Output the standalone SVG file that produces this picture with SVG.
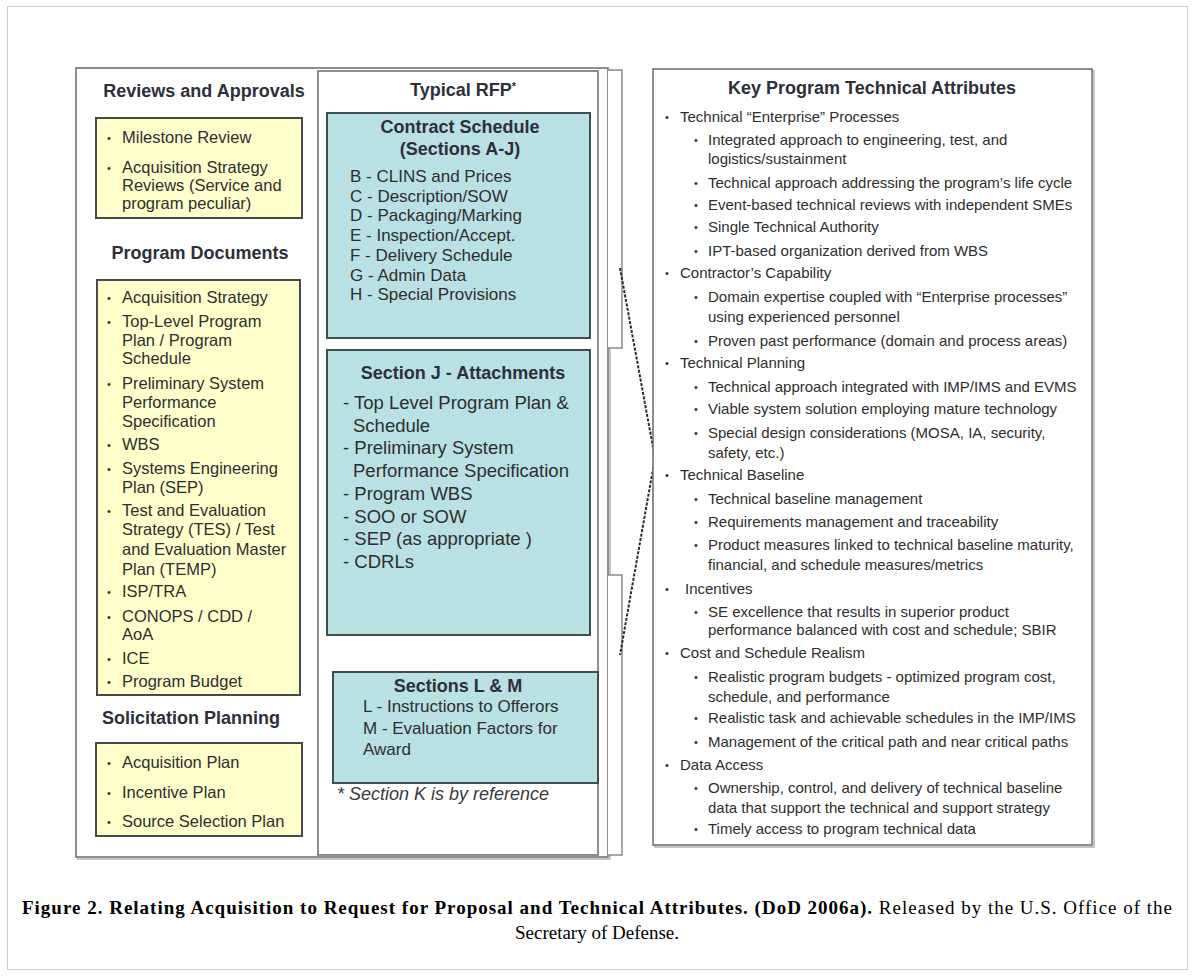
<svg xmlns="http://www.w3.org/2000/svg" width="1194" height="976" viewBox="0 0 1194 976">
<style>
.frame{fill:none;stroke:#cfcfcf;stroke-width:1}
.panel{fill:#fff;stroke:#6a6a6a;stroke-width:1.5}
.shadow{fill:none;stroke:#c4c4c4;stroke-width:2}
.yel{fill:#ffffcc;stroke:#4a4a4a;stroke-width:2}
.teal{fill:#b9e0e3;stroke:#3e4f50;stroke-width:2}
.brace{fill:#fff;stroke:#8a8a8a;stroke-width:1.5}
.chev{fill:none;stroke:#2a2a2a;stroke-width:2;stroke-dasharray:3 1.5}
text{font-family:"Liberation Sans",Arial,sans-serif;fill:#2e2e2e}
.hd{font-weight:bold;font-size:18px;text-anchor:middle;fill:#2d2f3a}
.li{font-size:16.5px}
.mi{font-size:17px}
.ji{font-size:18.5px}
.ri{font-size:15px}
.bl{font-size:11px}
.note{font-size:18px;font-style:italic;fill:#3a3a3a}
.cap{font-family:"Liberation Serif","Times New Roman",serif;font-size:19px;text-anchor:middle;fill:#000}
</style>

<rect class="frame" x="7.5" y="6.5" width="1180" height="963"/>

<g id="left-panel">
  <rect class="shadow" x="78" y="70" width="532" height="789"/>
  <rect class="panel" x="76" y="68" width="532" height="789"/>
  <text class="hd" x="204" y="97">Reviews and Approvals</text>
  <text class="hd" x="200" y="259">Program Documents</text>
  <text class="hd" x="191" y="724">Solicitation Planning</text>
</g>

<g id="reviews-box">
  <rect class="yel" x="96" y="118" width="206" height="100"/>
  <g class="bl"><text x="107" y="142">•</text><text x="107" y="172">•</text></g>
  <g class="li">
    <text x="122" y="143">Milestone Review</text>
    <text x="122" y="173">Acquisition Strategy</text>
    <text x="122" y="191">Reviews (Service and</text>
    <text x="122" y="209">program peculiar)</text>
  </g>
</g>

<g id="documents-box">
  <rect class="yel" x="97" y="280" width="203" height="415"/>
  <g class="bl">
    <text x="107" y="302">•</text><text x="107" y="326">•</text><text x="107" y="388">•</text>
    <text x="107" y="449">•</text><text x="107" y="473">•</text><text x="107" y="515">•</text>
    <text x="107" y="596">•</text><text x="107" y="621">•</text><text x="107" y="663">•</text>
    <text x="107" y="686">•</text>
  </g>
  <g class="li">
    <text x="122" y="303">Acquisition Strategy</text>
    <text x="122" y="327">Top-Level Program</text>
    <text x="122" y="346">Plan / Program</text>
    <text x="122" y="364">Schedule</text>
    <text x="122" y="389">Preliminary System</text>
    <text x="122" y="408">Performance</text>
    <text x="122" y="427">Specification</text>
    <text x="122" y="450">WBS</text>
    <text x="122" y="474">Systems Engineering</text>
    <text x="122" y="493">Plan (SEP)</text>
    <text x="122" y="516">Test and Evaluation</text>
    <text x="122" y="535">Strategy (TES) / Test</text>
    <text x="122" y="555">and Evaluation Master</text>
    <text x="122" y="575">Plan (TEMP)</text>
    <text x="122" y="597">ISP/TRA</text>
    <text x="122" y="622">CONOPS / CDD /</text>
    <text x="122" y="640">AoA</text>
    <text x="122" y="664">ICE</text>
    <text x="122" y="687">Program Budget</text>
  </g>
</g>

<g id="solicitation-box">
  <rect class="yel" x="96" y="743" width="206" height="93"/>
  <g class="bl"><text x="107" y="767">•</text><text x="107" y="797">•</text><text x="107" y="826">•</text></g>
  <g class="li">
    <text x="122" y="768">Acquisition Plan</text>
    <text x="122" y="798">Incentive Plan</text>
    <text x="122" y="827">Source Selection Plan</text>
  </g>
</g>

<g id="rfp-panel">
  <rect class="panel" x="318" y="71" width="280" height="784"/>
  <text class="hd" x="463" y="96">Typical RFP<tspan font-size="11" dy="-6">*</tspan></text>
  <text class="note" x="337" y="800">* Section K is by reference</text>
</g>

<g id="contract-schedule">
  <rect class="teal" x="327" y="113" width="263" height="225"/>
  <text class="hd" x="460" y="133">Contract Schedule</text>
  <text class="hd" x="460" y="155">(Sections A-J)</text>
  <g class="mi">
    <text x="350" y="182">B - CLINS and Prices</text>
    <text x="350" y="202">C - Description/SOW</text>
    <text x="350" y="221">D - Packaging/Marking</text>
    <text x="350" y="241">E - Inspection/Accept.</text>
    <text x="350" y="261">F - Delivery Schedule</text>
    <text x="350" y="281">G - Admin Data</text>
    <text x="350" y="300">H - Special Provisions</text>
  </g>
</g>

<g id="section-j">
  <rect class="teal" x="327" y="350" width="263" height="285"/>
  <text class="hd" x="463" y="379">Section J - Attachments</text>
  <g class="ji">
    <text x="343" y="409">- Top Level Program Plan &amp;</text>
    <text x="353" y="432">Schedule</text>
    <text x="343" y="454">- Preliminary System</text>
    <text x="353" y="477">Performance Specification</text>
    <text x="343" y="500">- Program WBS</text>
    <text x="343" y="523">- SOO or SOW</text>
    <text x="343" y="545">- SEP (as appropriate )</text>
    <text x="343" y="568">- CDRLs</text>
  </g>
</g>

<g id="sections-lm">
  <rect class="teal" x="333" y="672" width="265" height="111"/>
  <text class="hd" x="458" y="692">Sections L &amp; M</text>
  <g class="mi">
    <text x="363" y="712">L - Instructions to Offerors</text>
    <text x="363" y="734">M - Evaluation Factors for</text>
    <text x="363" y="755">Award</text>
  </g>
</g>

<g id="connectors">
  <path class="brace" d="M608 70 H622 V348 H608"/>
  <path class="brace" d="M608 855 H622 V575 H608"/>
  <polyline class="chev" points="620,268 655,458 620,655"/>
</g>

<g id="key-attributes">
  <rect class="shadow" x="655" y="71" width="439" height="776"/>
  <rect class="panel" x="653" y="69" width="439" height="776"/>
  <text class="hd" x="872" y="94">Key Program Technical Attributes</text>
  <g class="bl">
    <text x="665" y="121">•</text><text x="694" y="144">•</text><text x="694" y="187">•</text>
    <text x="694" y="209">•</text><text x="694" y="231">•</text><text x="694" y="255">•</text>
    <text x="665" y="277">•</text><text x="694" y="301">•</text><text x="694" y="345">•</text>
    <text x="665" y="367">•</text><text x="694" y="391">•</text><text x="694" y="413">•</text>
    <text x="694" y="437">•</text><text x="665" y="479">•</text><text x="694" y="503">•</text>
    <text x="694" y="526">•</text><text x="694" y="549">•</text><text x="665" y="593">•</text>
    <text x="694" y="616">•</text><text x="665" y="657">•</text><text x="694" y="681">•</text>
    <text x="694" y="722">•</text><text x="694" y="746">•</text><text x="665" y="769">•</text>
    <text x="694" y="792">•</text><text x="694" y="833">•</text>
  </g>
  <g class="ri">
    <text x="680" y="122">Technical “Enterprise” Processes</text>
    <text x="708" y="145">Integrated approach to engineering, test, and</text>
    <text x="708" y="164">logistics/sustainment</text>
    <text x="708" y="188">Technical approach addressing the program’s life cycle</text>
    <text x="708" y="210">Event-based technical reviews with independent SMEs</text>
    <text x="708" y="232">Single Technical Authority</text>
    <text x="708" y="256">IPT-based organization derived from WBS</text>
    <text x="680" y="278">Contractor’s Capability</text>
    <text x="708" y="302">Domain expertise coupled with “Enterprise processes”</text>
    <text x="708" y="322">using experienced personnel</text>
    <text x="708" y="346">Proven past performance (domain and process areas)</text>
    <text x="680" y="368">Technical Planning</text>
    <text x="708" y="392">Technical approach integrated with IMP/IMS and EVMS</text>
    <text x="708" y="414">Viable system solution employing mature technology</text>
    <text x="708" y="438">Special design considerations (MOSA, IA, security,</text>
    <text x="708" y="458">safety, etc.)</text>
    <text x="680" y="480">Technical Baseline</text>
    <text x="708" y="504">Technical baseline management</text>
    <text x="708" y="527">Requirements management and traceability</text>
    <text x="708" y="550">Product measures linked to technical baseline maturity,</text>
    <text x="708" y="570">financial, and schedule measures/metrics</text>
    <text x="685" y="594">Incentives</text>
    <text x="708" y="617">SE excellence that results in superior product</text>
    <text x="708" y="635">performance balanced with cost and schedule; SBIR</text>
    <text x="680" y="658">Cost and Schedule Realism</text>
    <text x="708" y="682">Realistic program budgets - optimized program cost,</text>
    <text x="708" y="702">schedule, and performance</text>
    <text x="708" y="723">Realistic task and achievable schedules in the IMP/IMS</text>
    <text x="708" y="747">Management of the critical path and near critical paths</text>
    <text x="680" y="770">Data Access</text>
    <text x="708" y="793">Ownership, control, and delivery of technical baseline</text>
    <text x="708" y="813">data that support the technical and support strategy</text>
    <text x="708" y="834">Timely access to program technical data</text>
  </g>
</g>

<g id="caption">
  <text class="cap" x="597" y="914" textLength="1150" lengthAdjust="spacing"><tspan font-weight="bold">Figure 2. Relating Acquisition to Request for Proposal and Technical Attributes. (DoD 2006a).</tspan> Released by the U.S. Office of the</text>
  <text class="cap" x="597" y="939">Secretary of Defense.</text>
</g>
</svg>
